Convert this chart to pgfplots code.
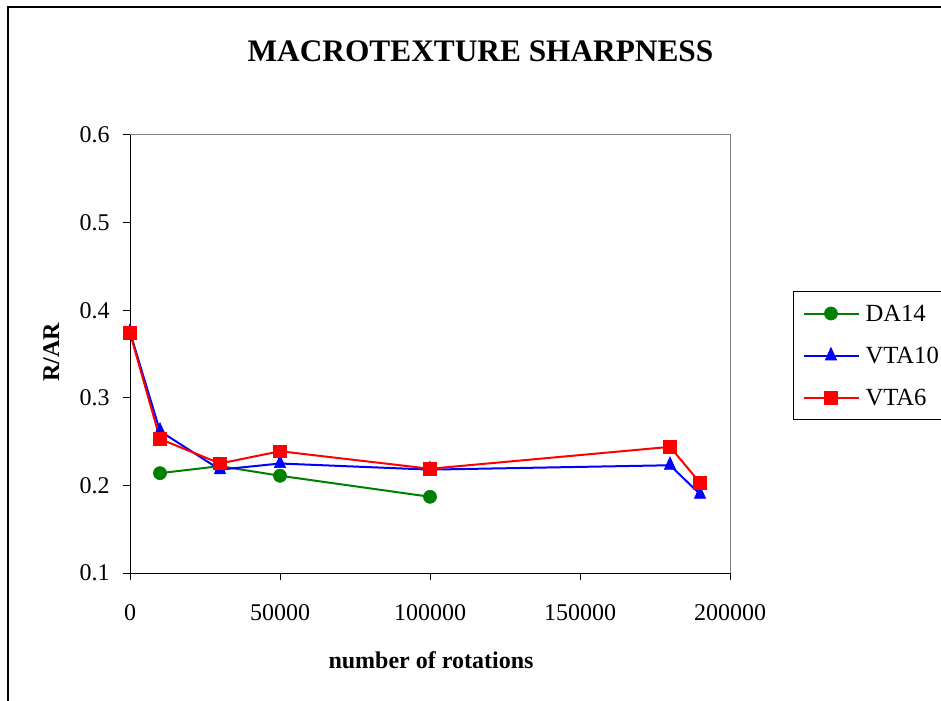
\documentclass[border=0pt]{standalone}
\usepackage{fontspec}
\setmainfont{Liberation Serif}
\usepackage{pgfplots}
\pgfplotsset{compat=1.18}
\definecolor{xlgreen}{RGB}{0,128,0}
\definecolor{xlblue}{RGB}{0,0,255}
\definecolor{xlred}{RGB}{255,0,0}
\definecolor{xlgray}{RGB}{128,128,128}
\begin{document}
\begin{tikzpicture}[x=0.75pt,y=0.75pt,font=\fontsize{18}{21.6}\selectfont]
\path[use as bounding box] (0,0) rectangle (941,700);
\draw[line width=0.9pt] (8,-30) -- (8,693) -- (980,693);
\node[anchor=base,font=\fontsize{23.5}{28}\selectfont\bfseries] at (480.5,638) {MACROTEXTURE SHARPNESS};
\node[anchor=base,font=\fontsize{18}{21.6}\selectfont\bfseries] at (431,32) {number of rotations};
\node[anchor=base,rotate=90,font=\fontsize{18}{21.6}\selectfont\bfseries] at (59,348) {R/AR};
\begin{axis}[
  at={(97.5pt,95.25pt)}, anchor=south west,
  scale only axis, width=450pt, height=328.5pt,
  xmin=0, xmax=200000, ymin=0.1, ymax=0.6,
  xtick={0,50000,100000,150000,200000},
  ytick={0.1,0.2,0.3,0.4,0.5,0.6},
  scaled ticks=false,
  /pgf/number format/assume math mode=true,
  /pgf/number format/set thousands separator={},
  xticklabel style={/pgf/number format/fixed,/pgf/number format/precision=0},
  yticklabel style={/pgf/number format/fixed,/pgf/number format/precision=1,/pgf/number format/fixed zerofill},
  axis x line*=bottom, axis y line*=left,
  axis line style={black,line width=0.75pt,-},
  tick align=outside, major tick length=5.25pt,
  tick style={black,line width=0.75pt},
  ticklabel style={font=\fontsize{18}{21.6}\selectfont},
  xticklabel style={inner sep=0pt,anchor=north,yshift=-18pt},
  yticklabel style={inner sep=0pt,anchor=east,xshift=-9.75pt},
  clip=false,
  legend style={at={(rel axis cs:1.105,0.6438)}, anchor=north west,
    draw=black, line width=0.75pt, inner xsep=6.75pt, inner ysep=10.5pt,
    row sep=19.5pt, column sep=4.5pt,
    nodes={inner sep=0pt, text height=12pt, text depth=0pt, anchor=west},
    font=\fontsize{18.5}{22}\selectfont},
  legend cell align=left,
  legend image code/.code={\draw[mark repeat=2,mark phase=2] plot coordinates {(0pt,0pt) (20.6pt,0pt) (41.25pt,0pt)};},
]
\draw[xlgray,line width=0.75pt] (rel axis cs:0,1) -- (rel axis cs:1,1) -- (rel axis cs:1,0);
\addplot[color=xlgreen, draw=xlgreen, line width=1.5pt, mark=*, mark size=4.9pt,
  mark options={solid,fill=xlgreen,draw=xlgreen,line width=0.5pt},
  legend image post style={draw=xlgreen,line width=1.5pt}]
  coordinates {(10000,0.214) (30000,0.222) (50000,0.211) (100000,0.187)};
\addlegendentry{DA14}
\addplot[color=xlblue, draw=xlblue, line width=1.5pt, mark=triangle*, mark size=5.4pt,
  mark options={solid,fill=xlblue,draw=xlblue,line width=0.5pt,yscale=1.15,xscale=0.9},
  legend image post style={draw=xlblue,line width=1.5pt}]
  coordinates {(0,0.375) (10000,0.262) (30000,0.218) (50000,0.225) (100000,0.218) (180000,0.223) (190000,0.190)};
\addlegendentry{VTA10}
\addplot[color=xlred, draw=xlred, line width=1.5pt, mark=square*, mark size=4.7pt,
  mark options={solid,fill=xlred,draw=xlred,line width=0.5pt},
  legend image post style={draw=xlred,line width=1.5pt}]
  coordinates {(0,0.374) (10000,0.253) (30000,0.225) (50000,0.239) (100000,0.219) (180000,0.244) (190000,0.203)};
\addlegendentry{VTA6}
\end{axis}
\end{tikzpicture}
\end{document}
